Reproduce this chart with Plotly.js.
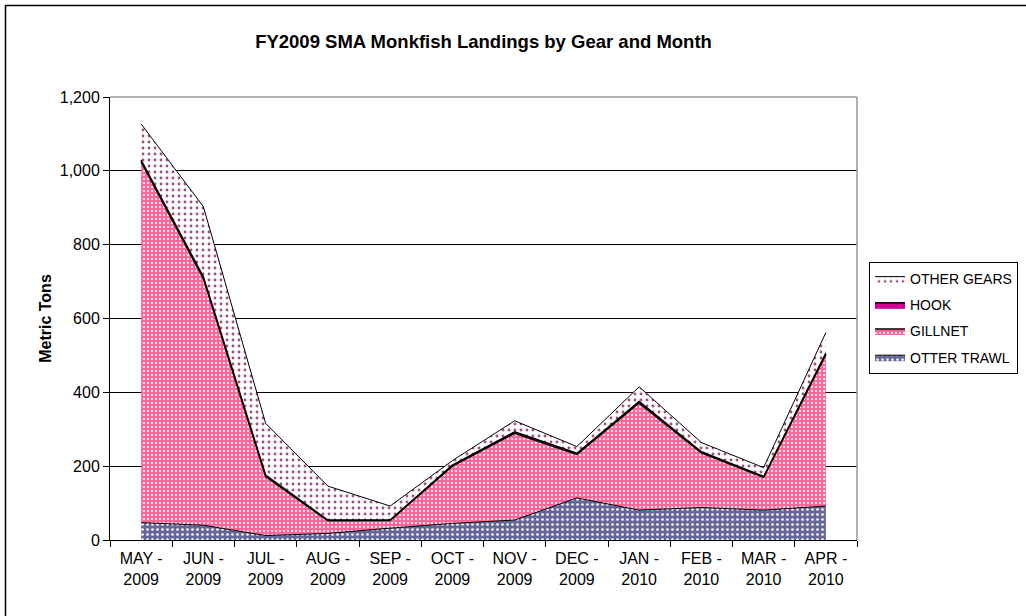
<!DOCTYPE html>
<html>
<head>
<meta charset="utf-8">
<script src="https://cdn.plot.ly/plotly-3.0.1.min.js"></script>
<style>
  html, body { margin: 0; padding: 0; background: #fff; }
  #chart { width: 1026px; height: 616px; }
</style>
</head>
<body>
<div id="chart"></div>
<script>
// Months (category labels)
const months = ["MAY -<br>2009", "JUN -<br>2009", "JUL -<br>2009", "AUG -<br>2009",
                "SEP -<br>2009", "OCT -<br>2009", "NOV -<br>2009", "DEC -<br>2009",
                "JAN -<br>2010", "FEB -<br>2010", "MAR -<br>2010", "APR -<br>2010"];

// Landings (metric tons) by gear
const otterTrawl = [47, 40, 12, 18, 32, 45, 54, 114, 81, 88, 81, 92];
const gillnet    = [977, 668, 160, 34, 21, 155, 235, 118, 290, 148, 89, 410];
const hook       = [5, 5, 4, 2, 1, 3, 4, 3, 4, 3, 2, 4];
const otherGears = [98, 190, 140, 92, 38, 12, 30, 18, 40, 25, 24, 56];

const yTicks = [0, 200, 400, 600, 800, 1000, 1200];

const traces = [
  {
    name: "OTTER TRAWL", x: months, y: otterTrawl, type: "scatter", mode: "lines",
    stackgroup: "one", line: { color: "#000000", width: 1 }, fillcolor: "#666699",
    legendgroup: "otter", legendrank: 4,
    fillpattern: { shape: ".", bgcolor: "#666699", fgcolor: "#ffffff", size: 5, solidity: 0.22 }
  },
  {
    name: "GILLNET", x: months, y: gillnet, type: "scatter", mode: "lines",
    stackgroup: "one", line: { color: "#000000", width: 1.5 }, fillcolor: "#FF6699",
    legendgroup: "gill", legendrank: 3,
    fillpattern: { shape: ".", bgcolor: "#FF6699", fgcolor: "#ffffff", size: 4, solidity: 0.22 }
  },
  {
    name: "HOOK", x: months, y: hook, type: "scatter", mode: "lines",
    stackgroup: "one", line: { color: "#000000", width: 1.5 }, fillcolor: "#CC0099",
    legendgroup: "hook", legendrank: 2
  },
  {
    name: "OTHER GEARS", x: months, y: otherGears, type: "scatter", mode: "lines",
    stackgroup: "one", line: { color: "#000000", width: 1 }, fillcolor: "#ffffff",
    legendgroup: "other", legendrank: 1,
    fillpattern: { shape: ".", bgcolor: "#ffffff", fgcolor: "#a05080", size: 6, solidity: 0.18 }
  }
];

// pixel -> paper helpers (plot area: x 110..857, y 97..540)
const L = 110, R = 857, T = 97, B = 540;
const px = p => (p - L) / (R - L);
const py = p => (B - p) / (B - T);

const layout = {
  width: 1026, height: 616,
  margin: { l: L, r: 1026 - R, t: T, b: 616 - B, pad: 0, autoexpand: false },
  paper_bgcolor: "#ffffff",
  plot_bgcolor: "#ffffff",
  font: { family: "Liberation Sans, Arial, sans-serif", size: 16, color: "#000000" },
  title: {
    text: "<b>FY2009 SMA Monkfish Landings by Gear and Month</b>",
    font: { family: "Liberation Sans, Arial, sans-serif", size: 18.5, color: "#000000" },
    x: 0.5, xref: "paper", xanchor: "center",
    y: 1 - 42 / 616, yref: "container", yanchor: "middle"
  },
  xaxis: {
    type: "category",
    range: [-0.5, 11.5],
    tickson: "boundaries",
    ticks: "outside", ticklen: 6, tickcolor: "#000000", tickwidth: 1,
    showline: true, linecolor: "#000000", linewidth: 1,
    showgrid: false, zeroline: false,
    tickfont: { size: 16 },
    ticklabelstandoff: 4,
    automargin: false,
    fixedrange: true
  },
  yaxis: {
    range: [0, 1200],
    tickvals: yTicks,
    tickformat: ",d",
    ticks: "outside", ticklen: 6, tickcolor: "#000000", tickwidth: 1,
    showline: true, linecolor: "#000000", linewidth: 1,
    showgrid: true, gridcolor: "#000000", gridwidth: 1,
    zeroline: false,
    tickfont: { size: 16 },
    title: { text: "<b>Metric Tons</b>", font: { size: 16 }, standoff: 4 },
    automargin: false,
    fixedrange: true
  },
  legend: {
    x: px(869), xanchor: "left",
    y: py(262), yanchor: "top",
    traceorder: "grouped",
    tracegroupgap: 5,
    bordercolor: "#000000", borderwidth: 1,
    bgcolor: "#ffffff",
    font: { size: 14 },
    itemwidth: 30
  },
  showlegend: true,
  shapes: [
    // gray plot-area frame (top & right)
    { type: "line", xref: "paper", yref: "paper", x0: 0, x1: 1, y0: 1, y1: 1,
      line: { color: "#999999", width: 1.5 } },
    { type: "line", xref: "paper", yref: "paper", x0: 1, x1: 1, y0: 0, y1: 1,
      line: { color: "#999999", width: 1.5 } },
    // outer chart frame (left & top edges visible)
    { type: "line", xref: "paper", yref: "paper", x0: px(5), x1: px(1030), y0: py(5.5), y1: py(5.5),
      line: { color: "#000000", width: 1.5 } },
    { type: "line", xref: "paper", yref: "paper", x0: px(5.5), x1: px(5.5), y0: py(5), y1: py(620),
      line: { color: "#000000", width: 1.5 } }
  ]
};

Plotly.newPlot("chart", traces, layout, { displayModeBar: false, staticPlot: true });
</script>
</body>
</html>
